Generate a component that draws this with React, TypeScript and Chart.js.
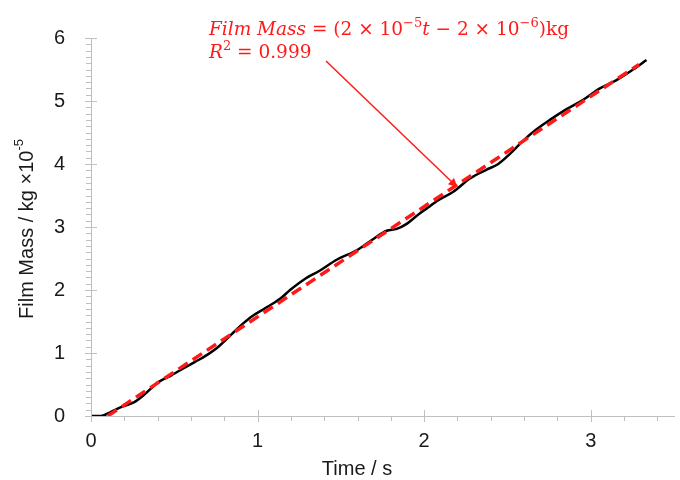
import React, { useEffect, useRef } from "react";
import { Chart, registerables } from "chart.js";

Chart.register(...registerables);

// Measured film mass (×10^-5 kg) against time (s)
const timeS = [
  0, 0.06, 0.12, 0.18, 0.26, 0.32, 0.4, 0.485, 0.565, 0.625, 0.685, 0.765, 0.845, 0.905, 0.965,
  1.045, 1.135, 1.195, 1.275, 1.375, 1.475, 1.595, 1.695, 1.775, 1.835, 1.895, 1.975, 2.035,
  2.075, 2.175, 2.275, 2.375, 2.445, 2.515, 2.595, 2.675, 2.755, 2.855, 2.955, 3.055, 3.155,
  3.255, 3.335,
];
const filmMass = [
  0, 0, 0.065, 0.14, 0.22, 0.34, 0.53, 0.65, 0.77, 0.86, 0.95, 1.1, 1.3, 1.45, 1.58,
  1.71, 1.86, 2.0, 2.16, 2.31, 2.48, 2.63, 2.81, 2.94, 2.97, 3.05, 3.22, 3.33,
  3.41, 3.56, 3.77, 3.91, 4.0, 4.16, 4.37, 4.55, 4.7, 4.87, 5.02, 5.2, 5.33,
  5.5, 5.65,
];

// Linear fit end points
const fitTime = [0.1, 3.29];
const fitMass = [0, 5.58];

const xTickValues = [0, 1, 2, 3];
const yTickValues = [0, 1, 2, 3, 4, 5, 6];

const xAxisTitle = "Time / s";
const yAxisTitle = "Film Mass / kg ×10";
const yAxisTitleSup = "-5";

type Seg = { text: string; italic?: boolean; sup?: boolean };
const equationLine1: Seg[] = [
  { text: "Film Mass", italic: true },
  { text: " = (2 × 10" },
  { text: "−5", sup: true },
  { text: "t", italic: true },
  { text: " − 2 × 10" },
  { text: "−6", sup: true },
  { text: ")kg" },
];
const equationLine2: Seg[] = [
  { text: "R", italic: true },
  { text: "2", sup: true },
  { text: " = 0.999" },
];

const SANS = "'Liberation Sans', Arial, sans-serif";
const SERIF = "'DejaVu Serif', 'Liberation Serif', serif";
const AXIS_GREY = "#bfbfbf";
const LABEL_COLOR = "#1a1a1a";
const RED = "#ff1a1a";

function drawSegments(ctx: CanvasRenderingContext2D, segs: Seg[], x: number, y: number, size: number) {
  let cx = x;
  ctx.textBaseline = "alphabetic";
  ctx.textAlign = "left";
  for (const s of segs) {
    const fs = s.sup ? Math.round(size * 0.68) : size;
    ctx.font = `${s.italic ? "italic " : ""}${fs}px ${SERIF}`;
    const dy = s.sup ? -size * 0.42 : 0;
    ctx.fillText(s.text, cx, y + dy);
    cx += ctx.measureText(s.text).width;
  }
}

const decorPlugin = {
  id: "decor",
  afterDraw(chart: any) {
    const ctx: CanvasRenderingContext2D = chart.ctx;
    const xs = chart.scales.x;
    const ys = chart.scales.y;
    const area = chart.chartArea;
    ctx.save();

    // tick marks: majors cross the axis, minors sit outside it
    ctx.strokeStyle = AXIS_GREY;
    ctx.lineWidth = 1;
    ctx.beginPath();
    for (let i = 0; i <= 60; i++) {
      const v = i / 10;
      const py = Math.round(ys.getPixelForValue(v)) + 0.5;
      if (i % 10 === 0) {
        ctx.moveTo(area.left - 6, py);
        ctx.lineTo(area.left + 6, py);
      } else {
        ctx.moveTo(area.left - 5, py);
        ctx.lineTo(area.left, py);
      }
    }
    for (let i = 0; i <= 17; i++) {
      const v = i / 5;
      const px = Math.round(xs.getPixelForValue(v)) + 0.5;
      if (i % 5 === 0) {
        ctx.moveTo(px, area.bottom - 6);
        ctx.lineTo(px, area.bottom + 6);
      } else {
        ctx.moveTo(px, area.bottom);
        ctx.lineTo(px, area.bottom + 5);
      }
    }
    ctx.stroke();

    // axis titles
    ctx.fillStyle = LABEL_COLOR;
    ctx.font = `20px ${SANS}`;
    ctx.textAlign = "center";
    ctx.textBaseline = "middle";
    ctx.fillText(xAxisTitle, area.left + 266, area.bottom + 53);

    ctx.save();
    ctx.translate(area.left - 64, (area.top + area.bottom) / 2 + 2);
    ctx.rotate(-Math.PI / 2);
    ctx.font = `20px ${SANS}`;
    const w1 = ctx.measureText(yAxisTitle).width;
    ctx.font = `13px ${SANS}`;
    const w2 = ctx.measureText(yAxisTitleSup).width;
    const start = -(w1 + w2) / 2;
    ctx.textAlign = "left";
    ctx.font = `20px ${SANS}`;
    ctx.fillText(yAxisTitle, start, 0);
    ctx.font = `13px ${SANS}`;
    ctx.fillText(yAxisTitleSup, start + w1, -8);
    ctx.restore();

    // fit equation and arrow
    ctx.fillStyle = RED;
    drawSegments(ctx, equationLine1, 209, 35, 18.5);
    drawSegments(ctx, equationLine2, 209, 58, 18.5);

    const x0 = 326, y0 = 61;
    const x1 = xs.getPixelForValue(2.2);
    const y1 = ys.getPixelForValue(3.63);
    const ang = Math.atan2(y1 - y0, x1 - x0);
    const head = 10;
    ctx.strokeStyle = RED;
    ctx.lineWidth = 1.5;
    ctx.beginPath();
    ctx.moveTo(x0, y0);
    ctx.lineTo(x1 - Math.cos(ang) * head * 0.8, y1 - Math.sin(ang) * head * 0.8);
    ctx.stroke();
    ctx.beginPath();
    ctx.moveTo(x1, y1);
    ctx.lineTo(x1 - head * Math.cos(ang - 0.45), y1 - head * Math.sin(ang - 0.45));
    ctx.lineTo(x1 - head * Math.cos(ang + 0.45), y1 - head * Math.sin(ang + 0.45));
    ctx.closePath();
    ctx.fill();

    ctx.restore();
  },
};

export default function App() {
  const canvasRef = useRef<HTMLCanvasElement | null>(null);

  useEffect(() => {
    if (!canvasRef.current) return;
    const chart = new Chart(canvasRef.current, {
      type: "line",
      data: {
        datasets: [
          {
            label: "Fit",
            data: fitTime.map((t, i) => ({ x: t, y: fitMass[i] })),
            borderColor: RED,
            borderWidth: 3.5,
            borderDash: [11, 6],
            pointRadius: 0,
            fill: false,
            order: 0,
          },
          {
            label: "Film Mass",
            data: timeS.map((t, i) => ({ x: t, y: filmMass[i] })),
            borderColor: "#000",
            borderWidth: 2.5,
            pointRadius: 0,
            fill: false,
            cubicInterpolationMode: "monotone",
            order: 1,
          },
        ],
      },
      options: {
        responsive: false,
        animation: false,
        layout: { padding: { top: 19, right: 6, left: 0, bottom: 0 } },
        plugins: { legend: { display: false }, tooltip: { enabled: false }, title: { display: false } },
        scales: {
          x: {
            type: "linear",
            min: 0,
            max: 3.5,
            afterFit: (s: any) => { s.height = 64; },
            afterBuildTicks: (s: any) => { s.ticks = xTickValues.map((v) => ({ value: v })); },
            grid: { display: false, drawTicks: false },
            border: { display: true, color: AXIS_GREY, width: 1 },
            ticks: {
              padding: 13,
              color: LABEL_COLOR,
              font: { family: SANS, size: 20 },
              callback: (v: any) => String(v),
            },
          },
          y: {
            type: "linear",
            min: 0,
            max: 6,
            afterFit: (s: any) => { s.width = 91; },
            afterBuildTicks: (s: any) => { s.ticks = yTickValues.map((v) => ({ value: v })); },
            grid: { display: false, drawTicks: false },
            border: { display: true, color: AXIS_GREY, width: 1 },
            ticks: {
              padding: 26,
              color: LABEL_COLOR,
              font: { family: SANS, size: 20 },
              callback: (v: any) => String(v),
            },
          },
        },
      },
      plugins: [decorPlugin],
    } as any);
    return () => chart.destroy();
  }, []);

  return (
    <div style={{ position: "absolute", left: 0, top: 0, width: 680, height: 480, background: "#fff" }}>
      <canvas ref={canvasRef} width={680} height={480} style={{ display: "block" }} />
    </div>
  );
}
